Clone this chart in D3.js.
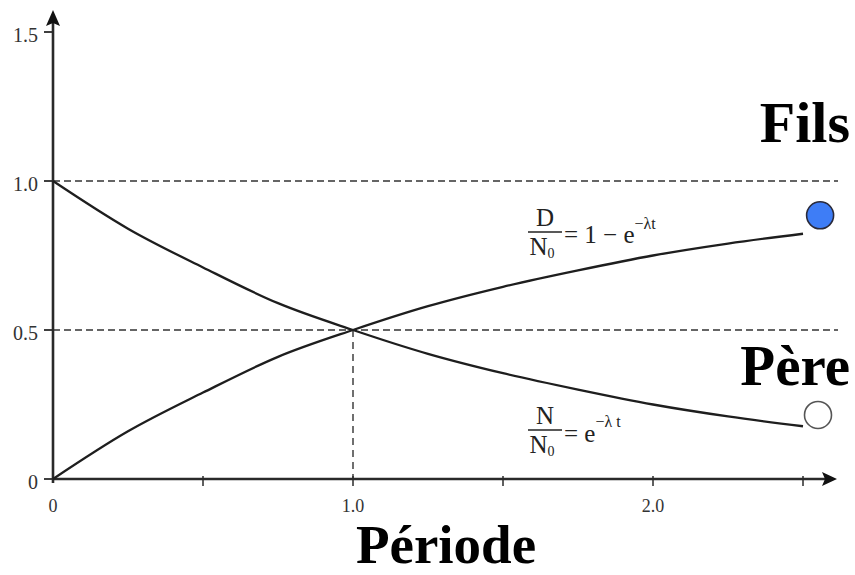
<!DOCTYPE html>
<html>
<head>
<meta charset="utf-8">
<script src="https://cdn.jsdelivr.net/npm/d3@7"></script>
<style>
  body { margin: 0; background: #fff; }
  svg { display: block; font-family: "Liberation Serif", "DejaVu Serif", serif; }
</style>
</head>
<body>
<svg id="chart" width="855" height="575"></svg>
<script>
// values (t in half-lives)
const periods  = [0, 0.25, 0.5, 0.75, 1.0, 1.25, 1.5, 1.75, 2.0, 2.25, 2.5];
const parent   = [1.0, 0.84, 0.71, 0.59, 0.50, 0.42, 0.355, 0.30, 0.25, 0.21, 0.177];
const daughter = [0.0, 0.16, 0.29, 0.41, 0.50, 0.58, 0.645, 0.70, 0.75, 0.79, 0.823];
const yTicks = [0, 0.5, 1.0, 1.5];
const yTickLabels = ["0", "0.5", "1.0", "1.5"];
const xTicks = [0, 0.5, 1.0, 1.5, 2.0, 2.5];
const xTickLabels = ["0", "", "1.0", "", "2.0", ""];
const guideLevels = [1.0, 0.5];
const markers = [
  {name: "Fils", t: 2.557, v: 0.885, fill: "#3e7df6", stroke: "#2a2a3a"},
  {name: "Père", t: 2.55, v: 0.215, fill: "#fff", stroke: "#555"}
];

const svg = d3.select("#chart");
const x = d3.scaleLinear().domain([0, 2.6]).range([53, 833]);
const y = d3.scaleLinear().domain([0, 1.5]).range([479, 32]);

// dashed guides
svg.selectAll("line.guide").data(guideLevels).join("line")
  .attr("class", "guide")
  .attr("x1", x(0)).attr("x2", 838)
  .attr("y1", d => y(d)).attr("y2", d => y(d))
  .attr("stroke", "#333").attr("stroke-width", 1.6)
  .attr("stroke-dasharray", "7,4");
svg.append("line")
  .attr("x1", x(1)).attr("x2", x(1))
  .attr("y1", y(0.5)).attr("y2", y(0))
  .attr("stroke", "#333").attr("stroke-width", 1.4)
  .attr("stroke-dasharray", "7,5");

// axes
const axisColor = "#2a2a2a";
svg.append("line").attr("x1", x(0)).attr("x2", 826).attr("y1", y(0)).attr("y2", y(0))
  .attr("stroke", axisColor).attr("stroke-width", 2.6);
svg.append("line").attr("x1", x(0)).attr("x2", x(0)).attr("y1", y(0) + 4).attr("y2", 22)
  .attr("stroke", axisColor).attr("stroke-width", 2.6);
svg.append("path").attr("d", "M837,479 L822,472 L825,479 L822,486 Z").attr("fill", "#111");
svg.append("path").attr("d", `M${x(0)},10 L${x(0) - 7},26 L${x(0)},23 L${x(0) + 7},26 Z`).attr("fill", "#111");

// y ticks
svg.selectAll("line.ytick").data(yTicks).join("line")
  .attr("x1", x(0) - 9).attr("x2", x(0))
  .attr("y1", d => y(d)).attr("y2", d => y(d))
  .attr("stroke", axisColor).attr("stroke-width", 1.8);
svg.selectAll("text.ylab").data(yTicks).join("text")
  .attr("font-size", 20).attr("fill", "#333")
  .attr("x", x(0) - 15).attr("y", d => y(d) + 10)
  .attr("text-anchor", "end")
  .text((d, i) => yTickLabels[i]);

// x ticks
svg.selectAll("line.xtick").data(xTicks.slice(1)).join("line")
  .attr("x1", d => x(d)).attr("x2", d => x(d))
  .attr("y1", y(0) - 3).attr("y2", y(0) + 7)
  .attr("stroke", axisColor).attr("stroke-width", 1.5);
svg.selectAll("text.xlab").data(xTicks).join("text")
  .attr("font-size", 18).attr("fill", "#333")
  .attr("x", d => x(d)).attr("y", 512)
  .attr("text-anchor", "middle")
  .text((d, i) => xTickLabels[i]);

// curves
const line = d3.line().x(d => x(d[0])).y(d => y(d[1])).curve(d3.curveMonotoneX);
for (const series of [parent, daughter]) {
  svg.append("path")
    .datum(periods.map((t, i) => [t, series[i]]))
    .attr("d", line)
    .attr("fill", "none")
    .attr("stroke", "#1e1e1e")
    .attr("stroke-width", 2.3);
}

// markers
svg.selectAll("circle.marker").data(markers).join("circle")
  .attr("cx", d => x(d.t)).attr("cy", d => y(d.v)).attr("r", 13.5)
  .attr("fill", d => d.fill).attr("stroke", d => d.stroke).attr("stroke-width", 1.6);

// big labels
svg.append("text").attr("font-weight", "bold").attr("x", 850).attr("y", 142)
  .attr("text-anchor", "end").attr("font-size", 58).text("Fils");
svg.append("text").attr("font-weight", "bold").attr("x", 850).attr("y", 385)
  .attr("text-anchor", "end").attr("font-size", 57).text("Père");
svg.append("text").attr("font-weight", "bold").attr("x", 446).attr("y", 563)
  .attr("text-anchor", "middle").attr("font-size", 55).text("Période");

// formulas
function fraction(g, cx, num, top) {
  g.append("text").attr("x", cx).attr("y", top).attr("text-anchor", "middle")
    .attr("font-size", 25).text(num);
  g.append("line").attr("x1", cx - 17).attr("x2", cx + 17)
    .attr("y1", top + 6).attr("y2", top + 6).attr("stroke", "#222").attr("stroke-width", 1.5);
  const den = g.append("text").attr("x", cx - 3).attr("y", top + 29).attr("text-anchor", "middle")
    .attr("font-size", 25).text("N");
  den.append("tspan").attr("font-size", 14).attr("dy", 3).text("0");
}
const f1 = svg.append("g").attr("fill", "#222");
fraction(f1, 545, "D", 226);
const t1 = f1.append("text").attr("x", 564).attr("y", 243).attr("font-size", 25).text("= 1 − e");
t1.append("tspan").attr("font-size", 16).attr("dy", -14).text("−λt");

const f2 = svg.append("g").attr("fill", "#222");
fraction(f2, 545, "N", 424);
const t2 = f2.append("text").attr("x", 564).attr("y", 442).attr("font-size", 25).text("= e");
t2.append("tspan").attr("font-size", 16).attr("dy", -15).text("−λ t");
</script>
</body>
</html>
